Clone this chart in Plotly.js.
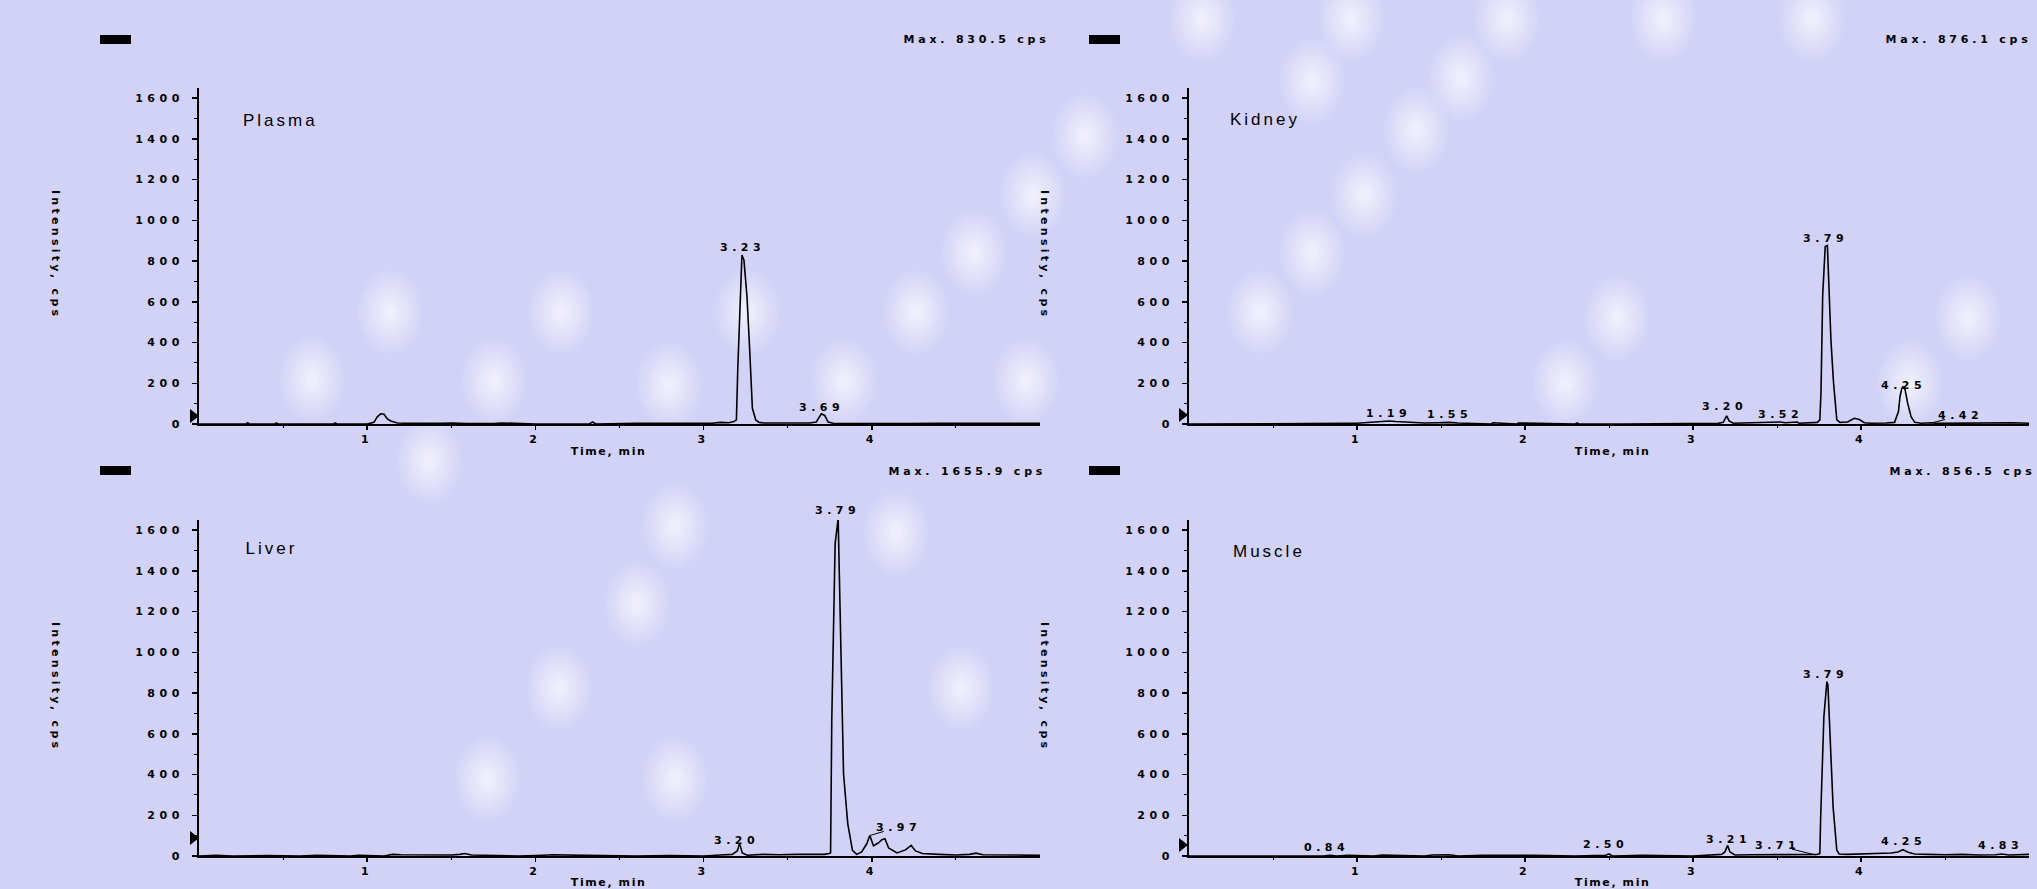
<!DOCTYPE html>
<html><head><meta charset="utf-8">
<script src="https://cdn.plot.ly/plotly-3.0.1.min.js"></script>
<style>
html,body{margin:0;padding:0;width:2037px;height:889px;overflow:hidden;}
body{background-color:#d2d2f7;}
#chart{width:2037px;height:889px;}
.xtick text, .ytick text, .x2tick text, .y2tick text,
.x3tick text, .y3tick text, .x4tick text, .y4tick text{letter-spacing:4.5px;}
</style></head>
<body><div id="chart"></div>
<script>
// ---------------- data ----------------
const panelNames = ['Plasma', 'Kidney', 'Liver', 'Muscle'];
const maxLabels = ['Max. 830.5 cps', 'Max. 876.1 cps', 'Max. 1655.9 cps', 'Max. 856.5 cps'];
const xTickVals = [1, 2, 3, 4];
const xMinorVals = [0.5, 1.5, 2.5, 3.5, 4.5];
const yTickVals = [0, 200, 400, 600, 800, 1000, 1200, 1400, 1600];

const plasmaTime = [
  0.00, 0.28, 0.29, 0.30, 0.45, 0.46, 0.47, 0.80, 0.81, 0.82,
  1.00, 1.04, 1.06, 1.08, 1.10, 1.12, 1.14, 1.16, 1.18, 1.22,
  1.30, 1.45, 1.50, 1.55, 1.60, 1.75, 1.80, 2.00, 2.32, 2.34,
  2.36, 2.60, 2.80, 3.05, 3.10, 3.15, 3.18, 3.195, 3.203, 3.215,
  3.228, 3.240, 3.250, 3.258, 3.274, 3.290, 3.310, 3.330, 3.36, 3.45,
  3.55, 3.63, 3.67, 3.70, 3.72, 3.74, 3.77, 3.90, 4.20, 4.40,
  4.60, 4.80, 5.00];
const plasmaIntensity = [
  0, 0, 6, 0, 0, 5, 0, 0, 5, 0,
  0, 8, 35, 50, 48, 25, 15, 8, 5, 4,
  3, 3, 5, 3, 2, 2, 5, 0, 0, 10,
  0, 3, 4, 4, 8, 6, 12, 20, 265, 585,
  830, 805, 720, 625, 363, 77, 20, 8, 5, 4,
  3, 5, 10, 50, 42, 10, 4, 3, 2, 4,
  3, 4, 3];

const kidneyTime = [
  0.00, 0.50, 0.80, 0.95, 1.00, 1.05, 1.10, 1.15, 1.19, 1.23,
  1.28, 1.33, 1.40, 1.48, 1.55, 1.60, 1.65, 1.80, 1.81, 1.95,
  1.96, 2.30, 2.31, 2.32, 2.60, 3.00, 3.15, 3.18, 3.20, 3.215,
  3.24, 3.35, 3.45, 3.52, 3.55, 3.62, 3.63, 3.70, 3.74, 3.755,
  3.762, 3.772, 3.787, 3.800, 3.808, 3.821, 3.836, 3.856, 3.875, 3.92,
  3.96, 3.99, 4.02, 4.06, 4.15, 4.20, 4.223, 4.232, 4.243, 4.250,
  4.262, 4.278, 4.298, 4.32, 4.36, 4.42, 4.45, 4.55, 4.65, 4.80,
  4.90, 5.00];
const kidneyIntensity = [
  0, 0, 0, 3, 4, 6, 10, 12, 15, 12,
  10, 8, 5, 6, 8, 5, 3, 0, 6, 0,
  5, 0, 5, 0, 0, 0, 3, 8, 40, 15,
  4, 6, 8, 10, 6, 10, 4, 5, 8, 20,
  159, 634, 871, 876, 658, 413, 208, 20, 8, 10,
  28, 22, 6, 4, 5, 8, 61, 134, 175, 183,
  170, 101, 36, 8, 4, 6, 3, 4, 5, 3,
  6, 4];

const liverTime = [
  0.00, 0.10, 0.20, 0.40, 0.60, 0.70, 0.90, 0.95, 1.10, 1.15,
  1.20, 1.30, 1.40, 1.50, 1.55, 1.58, 1.62, 1.70, 1.90, 2.05,
  2.10, 2.30, 2.60, 2.80, 3.00, 3.10, 3.17, 3.20, 3.214, 3.23,
  3.26, 3.35, 3.45, 3.55, 3.65, 3.72, 3.745, 3.755, 3.762, 3.782,
  3.800, 3.815, 3.832, 3.857, 3.885, 3.91, 3.94, 3.97, 3.988, 4.01,
  4.04, 4.06, 4.078, 4.10, 4.15, 4.20, 4.234, 4.26, 4.30, 4.40,
  4.50, 4.58, 4.62, 4.66, 4.75, 4.85, 5.00];
const liverIntensity = [
  0, 3, 0, 2, 0, 3, 0, 4, 0, 8,
  6, 5, 7, 5, 8, 12, 5, 3, 0, 4,
  6, 3, 0, 2, 0, 5, 8, 25, 61, 15,
  4, 8, 6, 8, 6, 8, 12, 15, 666, 1534,
  1656, 1141, 404, 159, 28, 8, 20, 60, 101, 50,
  65, 80, 85, 40, 15, 30, 52, 25, 12, 8,
  5, 8, 14, 6, 4, 5, 3];

const muscleTime = [
  0.00, 0.20, 0.25, 0.30, 0.35, 0.60, 0.80, 0.84, 0.88, 0.95,
  1.10, 1.15, 1.30, 1.40, 1.45, 1.55, 1.60, 1.75, 2.05, 2.30,
  2.48, 2.50, 2.52, 2.70, 3.00, 3.10, 3.17, 3.19, 3.206, 3.22,
  3.25, 3.35, 3.50, 3.60, 3.70, 3.74, 3.755, 3.760, 3.779, 3.797,
  3.803, 3.812, 3.820, 3.834, 3.856, 3.87, 3.92, 4.00, 4.10, 4.18,
  4.22, 4.25, 4.28, 4.32, 4.40, 4.50, 4.60, 4.70, 4.80, 4.84,
  4.88, 5.00];
const muscleIntensity = [
  0, 0, 3, 0, 3, 0, 0, 4, 0, 3,
  0, 5, 4, 0, 5, 6, 0, 3, 3, 0,
  4, 10, 0, 3, 0, 5, 8, 20, 52, 20,
  5, 6, 8, 8, 10, 8, 12, 192, 683, 856,
  840, 683, 470, 240, 28, 10, 8, 10, 12, 15,
  20, 31, 18, 10, 8, 6, 8, 5, 6, 10,
  5, 8];

// peak retention-time labels (text, time of label centre, height of label centre)
const plasmaPeakText = ['3.23', '3.69'];
const plasmaPeakX = [3.232, 3.70];
const plasmaPeakY = [867, 79];
const kidneyPeakText = ['1.19', '1.55', '3.20', '3.52', '3.79', '4.25'];
const kidneyPeakX = [1.19, 1.55, 3.19, 3.52, 3.79, 4.25];
const kidneyPeakY = [54, 46, 86, 46, 912, 190];
const liverPeakText = ['3.79', '3.20'];
const liverPeakX = [3.795, 3.197];
const liverPeakY = [1698, 77];
const musclePeakText = ['0.84', '2.50', '3.21', '3.79', '4.25', '4.83'];
const musclePeakX = [0.82, 2.48, 3.21, 3.79, 4.25, 4.83];
const musclePeakY = [44, 56, 80, 891, 69, 52];

// labels drawn with a short leader line to their peak
const leaderPanel = [1, 2, 3];
const leaderText = ['4.42', '3.97', '3.71'];
const leaderTipX = [4.42, 3.99, 3.73];
const leaderTipY = [5, 101, 5];
const leaderTextX = [4.59, 4.16, 3.50];
const leaderTextY = [41, 142, 52];

// ---------------- build ----------------
const W = 2037, H = 889;
const px = v => v / W;
const py = v => 1 - v / H;
const Y_TOP = 1650;
const PLOT_H = 336;

const times = [plasmaTime, kidneyTime, liverTime, muscleTime];
const intens = [plasmaIntensity, kidneyIntensity, liverIntensity, muscleIntensity];
const peakT = [plasmaPeakText, kidneyPeakText, liverPeakText, musclePeakText];
const peakX = [plasmaPeakX, kidneyPeakX, liverPeakX, musclePeakX];
const peakY = [plasmaPeakY, kidneyPeakY, liverPeakY, musclePeakY];

// panel geometry (pixels)
const panels = [
  {x0: 199, x1: 1040, y0: 88, y1: 424, nameX: 0.304, nameY: 1490, maxX: 976, maxY: 39, rectX: 100, rectY: 35, triX: 190, triY: 416, yTitleX: 56, xTitleX: 608, xTitleY: 451},
  {x0: 1189, x1: 2029, y0: 88, y1: 424, nameX: 0.288, nameY: 1495, maxX: 1958, maxY: 39, rectX: 1089, rectY: 35, triX: 1179, triY: 415, yTitleX: 1045, xTitleX: 1612, xTitleY: 451},
  {x0: 199, x1: 1040, y0: 520, y1: 856, nameX: 0.311, nameY: 1511, maxX: 967, maxY: 471, rectX: 100, rectY: 466, triX: 190, triY: 838, yTitleX: 56, xTitleX: 608, xTitleY: 882},
  {x0: 1189, x1: 2029, y0: 520, y1: 856, nameX: 0.304, nameY: 1497, maxX: 1962, maxY: 471, rectX: 1089, rectY: 466, triX: 1179, triY: 845, yTitleX: 1045, xTitleX: 1612, xTitleY: 882}
];

const FAM = 'DejaVu Sans, Verdana, sans-serif';
const tickFont = {family: FAM, size: 11, color: '#000', weight: 'bold'};
const smallFont = {family: FAM, size: 11, color: '#000', weight: 'bold'};
const nameFont = {family: 'Liberation Sans, Arial, sans-serif', size: 17, color: '#000'};

const traces = [];
const annotations = [];
const shapes = [];
const layout = {
  width: W, height: H,
  margin: {l: 0, r: 0, t: 0, b: 0},
  paper_bgcolor: 'rgba(0,0,0,0)',
  plot_bgcolor: 'rgba(0,0,0,0)',
  showlegend: false,
  annotations: annotations,
  shapes: shapes
};

panels.forEach((p, i) => {
  const n = i === 0 ? '' : String(i + 1);
  const xr = 'x' + n, yr = 'y' + n;
  traces.push({
    type: 'scatter', mode: 'lines',
    x: times[i], y: intens[i],
    xaxis: xr, yaxis: yr,
    line: {color: '#000', width: 1.6},
    hoverinfo: 'skip', name: panelNames[i]
  });
  layout['xaxis' + n] = {
    domain: [px(p.x0), px(p.x1)], anchor: yr,
    range: [0, 5.0], showgrid: false, zeroline: false,
    showline: true, linecolor: '#000', linewidth: 2,
    ticks: 'outside', ticklen: 4, tickwidth: 1.5, tickcolor: '#000',
    tickmode: 'array', tickvals: xTickVals, ticktext: xTickVals.map(String),
    tickfont: tickFont,
    minor: {tickmode: 'array', tickvals: xMinorVals, ticks: 'outside', ticklen: 2, tickwidth: 1, tickcolor: '#000'},
    fixedrange: true
  };
  layout['yaxis' + n] = {
    domain: [py(p.y1), py(p.y0)], anchor: xr,
    range: [0, Y_TOP], showgrid: false, zeroline: false,
    showline: true, linecolor: '#000', linewidth: 2,
    ticks: 'outside', ticklen: 5, tickwidth: 1.5, tickcolor: '#000',
    ticklabelstandoff: 6,
    tickmode: 'array', tickvals: yTickVals, ticktext: yTickVals.map(String),
    tickfont: tickFont,
    minor: {dtick: 100, tick0: 0, ticks: 'outside', ticklen: 3, tickwidth: 1, tickcolor: '#000'},
    fixedrange: true
  };
  // sample name
  annotations.push({xref: xr, yref: yr, x: p.nameX, y: p.nameY, text: panelNames[i],
    showarrow: false, xanchor: 'left', yanchor: 'middle', font: nameFont});
  // peak labels
  peakT[i].forEach((t, k) => {
    const yv = peakY[i][k];
    annotations.push({xref: xr, yref: yr, x: peakX[i][k], y: Math.min(yv, Y_TOP),
      yshift: yv > Y_TOP ? (yv - Y_TOP) * PLOT_H / Y_TOP : 0,
      text: t, showarrow: false, xanchor: 'center', yanchor: 'middle', font: smallFont});
  });
  // max intensity header
  annotations.push({xref: 'paper', yref: 'paper', x: px(p.maxX), y: py(p.maxY), text: maxLabels[i],
    showarrow: false, xanchor: 'center', yanchor: 'middle', font: smallFont});
  // axis titles
  annotations.push({xref: 'paper', yref: 'paper', x: px(p.yTitleX), y: py((p.y0 + p.y1) / 2 - 1),
    text: 'Intensity, cps', textangle: 90, showarrow: false, xanchor: 'center', yanchor: 'middle',
    font: smallFont});
  annotations.push({xref: 'paper', yref: 'paper', x: px(p.xTitleX), y: py(p.xTitleY),
    text: 'Time, min', showarrow: false, xanchor: 'center', yanchor: 'middle',
    font: smallFont});
  // decorations: black header block and trigger triangle
  shapes.push({type: 'rect', xref: 'paper', yref: 'paper',
    x0: px(p.rectX), x1: px(p.rectX + 31), y0: py(p.rectY), y1: py(p.rectY + 9),
    fillcolor: '#000', line: {width: 0}});
  shapes.push({type: 'path', xref: 'paper', yref: 'paper',
    path: 'M ' + px(p.triX) + ' ' + py(p.triY - 7) + ' L ' + px(p.triX + 9) + ' ' + py(p.triY) +
          ' L ' + px(p.triX) + ' ' + py(p.triY + 7) + ' Z',
    fillcolor: '#000', line: {width: 0}});
});

leaderText.forEach((t, k) => {
  const i = leaderPanel[k];
  const n = i === 0 ? '' : String(i + 1);
  annotations.push({xref: 'x' + n, yref: 'y' + n, axref: 'x' + n, ayref: 'y' + n,
    x: leaderTipX[k], y: leaderTipY[k], ax: leaderTextX[k], ay: leaderTextY[k],
    text: t, showarrow: true, arrowhead: 0, arrowwidth: 1, arrowcolor: '#000',
    standoff: 0, startstandoff: 0, font: smallFont});
});

// soft light blobs of the slide background
const bgBlobs = [
  [390, 312], [561, 312], [312, 379], [494, 381], [669, 385], [747, 312], [844, 381], [916, 312],
  [974, 253], [1033, 195], [1085, 136], [1026, 381], [1202, 19], [1351, 19], [1507, 19], [1663, 19],
  [1812, 19], [1312, 81], [1461, 78], [1416, 130], [1364, 195], [1312, 253], [1260, 312], [1617, 318],
  [1565, 383], [1968, 318], [1910, 383], [429, 461], [675, 526], [896, 533], [637, 604], [559, 688],
  [961, 688], [487, 779], [675, 779]
];
document.body.style.backgroundImage = bgBlobs.map(b =>
  'radial-gradient(ellipse 34px 44px at ' + b[0] + 'px ' + b[1] + 'px, rgba(255,255,255,0.7), rgba(255,255,255,0) 100%)'
).join(',');

Plotly.newPlot('chart', traces, layout, {staticPlot: true, displayModeBar: false}).then(gd => {
  gd.querySelectorAll('.annotation-text').forEach(t => {
    const fs = parseFloat(t.style.fontSize);
    const txt = t.textContent;
    let ls = '4.5px';
    if (fs > 14) ls = '3px';
    else if (txt.indexOf('Intensity') === 0) ls = '3.3px';
    else if (txt.indexOf('Time') === 0) ls = '1.6px';
    else if (txt.indexOf('Max') === 0) ls = '3.8px';
    t.style.letterSpacing = ls;
  });
});
</script>
</body></html>
